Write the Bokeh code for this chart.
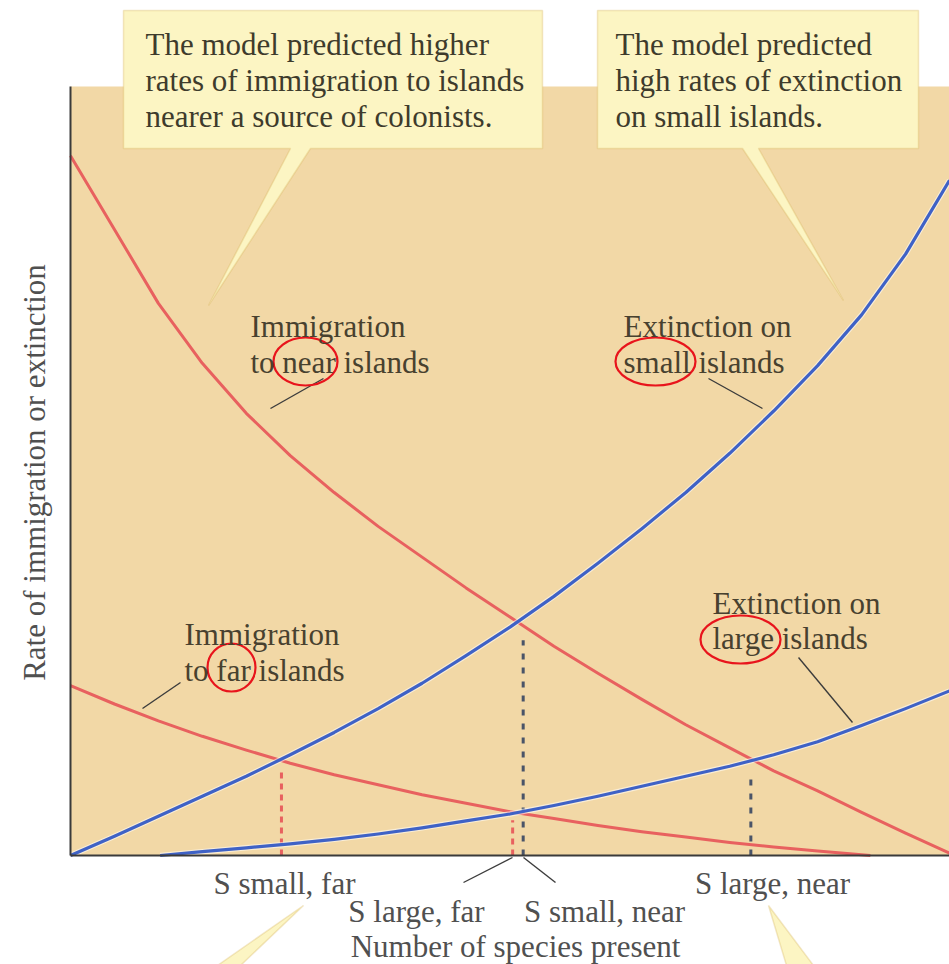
import math
from bokeh.plotting import figure
from bokeh.models import Range1d, Label, BoxAnnotation, PolyAnnotation
from bokeh.embed import file_html
from bokeh.resources import INLINE

# ---------------- data ----------------
species = [0, 5, 10, 15, 20, 25, 30, 35, 40, 45, 50, 55, 60, 65, 70, 75, 80, 85, 90, 95, 100]
imm_near = [91.0, 81.4, 71.8, 64.0, 57.5, 52.0, 47.2, 42.8, 38.8, 34.8, 31.0,
            27.2, 23.7, 20.3, 17.0, 14.0, 11.0, 8.4, 5.6, 2.9, 0.3]
ext_small = [0.0, 2.5, 5.1, 7.7, 10.3, 13.1, 16.0, 19.1, 22.4, 26.0, 29.7,
             33.7, 38.0, 42.5, 47.2, 52.3, 57.8, 63.7, 70.3, 78.2, 87.8]

far_species = [0, 5, 10, 15, 20, 25, 30, 35, 40, 45, 50, 55, 60, 65, 70, 75, 80, 85, 90, 91]
imm_far = [22.1, 19.7, 17.5, 15.5, 13.7, 12.0, 10.5, 9.2, 7.9, 6.8, 5.7,
           4.8, 3.9, 3.1, 2.4, 1.7, 1.1, 0.6, 0.1, 0.0]

large_species = [10.2, 15, 20, 25, 30, 35, 40, 45, 50, 55, 60, 65, 70, 75, 80, 85, 90, 95, 100]
ext_large = [0.0, 0.5, 1.0, 1.5, 2.1, 2.8, 3.6, 4.5, 5.4, 6.5, 7.7, 9.0,
             10.3, 11.6, 13.1, 14.8, 16.9, 19.1, 21.4]

eq_labels = ["S small, far", "S large, far", "S small, near", "S large, near"]
eq_species = [24.0, 50.3, 51.5, 77.4]
eq_dash_top = [10.8, 4.6, 28.0, 10.1]

y_title = "Rate of immigration or extinction"
x_title = "Number of species present"
callout_left = ["The model predicted higher", "rates of immigration to islands",
                "nearer a source of colonists."]
callout_right = ["The model predicted", "high rates of extinction", "on small islands."]

# ---------------- layout helpers ----------------
W, H = 949, 964
OX, OY = 70, 855          # page px of the axes origin
PX, PY = 8.79, 7.69       # page px per data unit
TEXT_SHIFT = 9            # label baseline correction (px)


def X(sx):
    return (sx - OX) / PX


def Y(sy):
    return (OY - sy) / PY


x0, x1 = X(0), X(W)
y0, y1 = Y(H), Y(0)

p = figure(width=W, height=H, x_range=Range1d(x0, x1), y_range=Range1d(y0, y1),
           output_backend="svg", toolbar_location=None, min_border=0)
p.axis.visible = False
p.grid.visible = False
p.outline_line_color = None
p.background_fill_color = "white"
p.border_fill_color = "white"

TAN = "#F2D8A6"
RED = "#E8615F"
BLUE = "#3F62C6"
DARK = "#4A5468"
TXT = "#48412F"
FONT = "Liberation Serif"
FS = "31px"

# tan plotting area
p.add_layout(BoxAnnotation(left=0, right=x1, bottom=0, top=100, fill_color=TAN,
                           fill_alpha=1.0, line_color=None, level="underlay"))

# dashed equilibrium lines
eq_colors = [RED, RED, DARK, DARK]
for xs, top, c in zip(eq_species, eq_dash_top, eq_colors):
    p.segment(x0=[xs], y0=[0], x1=[xs], y1=[top], line_color=c, line_width=3,
              line_dash="6 5" if c == RED else "6 8")

# curves
p.line(species, imm_near, line_color=RED, line_width=3, line_join="round")
p.line(far_species, imm_far, line_color=RED, line_width=3, line_join="round")
p.line(species, ext_small, line_color="white", line_width=5.5, line_alpha=0.55, line_join="round")
p.line(species, ext_small, line_color=BLUE, line_width=3.2, line_join="round")
p.line(large_species, ext_large, line_color="white", line_width=5.5, line_alpha=0.55, line_join="round")
p.line(large_species, ext_large, line_color=BLUE, line_width=3.2, line_join="round")

# axes lines
p.segment(x0=[0, 0], y0=[0, 0], x1=[0, x1], y1=[100, 0], line_color="#3A3A3A", line_width=2)

# leader lines
leaders = [((270, 408), (323, 378)), ((708, 378), (762, 408)), ((142, 708), (180, 682)),
           ((798, 657), (852, 722)), ((512, 857), (463, 882)), ((523, 857), (555, 882))]
p.segment(x0=[X(a[0]) for a, b in leaders], y0=[Y(a[1]) for a, b in leaders],
          x1=[X(b[0]) for a, b in leaders], y1=[Y(b[1]) for a, b in leaders],
          line_color="#3C3C3C", line_width=1.4)

# callout boxes
BOX_FILL = "#FCF5C3"
BOX_LINE = "#D4AE55"
poly1 = [(123, 10), (542, 10), (542, 148), (310, 148), (208, 305), (290, 148), (123, 148)]
poly2 = [(597, 10), (918, 10), (918, 148), (758, 148), (843, 300), (742, 148), (597, 148)]
poly3 = [(303, 905), (240, 965), (217, 965)]
poly4 = [(768, 905), (813, 965), (786, 965)]
for poly in (poly1, poly2, poly3, poly4):
    p.add_layout(PolyAnnotation(xs=[X(a) for a, b in poly], ys=[Y(b) for a, b in poly],
                                fill_color=BOX_FILL, fill_alpha=1.0,
                                line_color=BOX_LINE, line_width=1.5))


def label(text, sx, sy, align="left", color=TXT, angle=0.0, size=FS):
    if angle == 0.0:
        sy -= TEXT_SHIFT
    else:
        sx -= TEXT_SHIFT
    p.add_layout(Label(x=X(sx), y=Y(sy), text=text, text_font=FONT, text_font_size=size,
                       text_color=color, text_align=align, text_baseline="alphabetic",
                       angle=angle))


for i, t in enumerate(callout_left):
    label(t, 145, 53 + 36 * i, color="#3E3B2C")
for i, t in enumerate(callout_right):
    label(t, 615, 53 + 36 * i, color="#3E3B2C")

# curve labels
label("Immigration", 250, 335)
label("to near islands", 250, 371)
label("Extinction on", 623, 335)
label("small islands", 623, 371)
label("Immigration", 184, 643)
label("to far islands", 184, 679)
label("Extinction on", 712, 612)
label("large islands", 712, 647)

# red circles
circ = [(305, 361, 32, 24), (655, 361, 40, 24), (231, 667, 24, 24), (740, 639, 40, 24)]
p.ellipse(x=[X(c[0]) for c in circ], y=[Y(c[1]) for c in circ],
          width=[2 * c[2] / PX for c in circ], height=[2 * c[3] / PY for c in circ],
          fill_color=None, line_color="#E8141C", line_width=2.2)

# equilibrium tick labels
tick_pos = [(284, 892), (416, 920), (604, 920), (772, 892)]
for t, (sx, sy) in zip(eq_labels, tick_pos):
    label(t, sx, sy, align="center", color="#505050")

# axis titles
label(x_title, 515, 955, align="center", color="#505050")
label(y_title, 43, 472, align="center", color="#505050", angle=math.pi / 2)

open("out.html", "w").write(file_html(p, INLINE))
